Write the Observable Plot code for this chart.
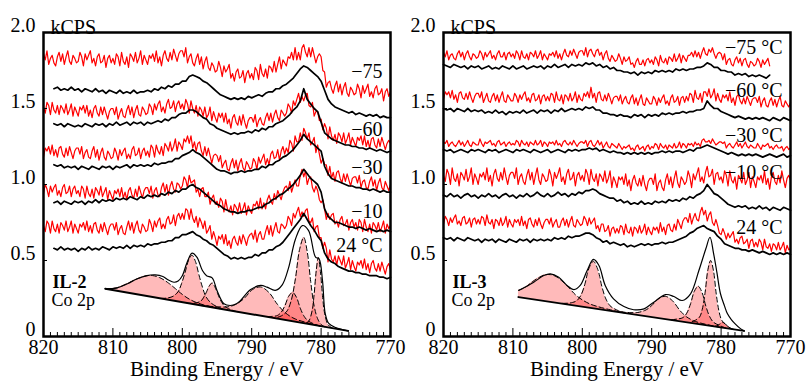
<!DOCTYPE html>
<html><head><meta charset="utf-8">
<script src="https://cdn.jsdelivr.net/npm/d3@7"></script>
<script src="https://cdn.jsdelivr.net/npm/@observablehq/plot@0.6"></script>
<style>
html,body{margin:0;padding:0;background:#fff;}
#wrap{position:relative;width:808px;height:382px;overflow:hidden;background:#fff;}
#wrap svg{position:absolute;top:0;background:transparent !important;overflow:visible !important;}
#wrap svg, #wrap svg text, #wrap svg g{font-family:"Liberation Serif","LiberationSerif","Tinos","Times New Roman","DejaVu Serif","Noto Serif",Times,serif !important;}
</style></head><body><div id="wrap"></div>
<script>
// ---------- axes ----------
const xTicks = [820, 810, 800, 790, 780, 770];
const yTicks = [0, 0.5, 1.0, 1.5, 2.0];
const yTickLabels = ["0", "0.5", "1.0", "1.5", "2.0"];
const minorTicks = d3.range(770, 821, 1).filter(d => d % 10 !== 0);
const yInnerTicks = [0.5, 1.0, 1.5];

// energy grids (eV)
const energyRedFull = d3.range(820, 769.9, -0.25);     // 820 -> 770, 0.25 eV
const energyRedShort = d3.range(820, 772.9, -0.25);    // 820 -> 773, 0.25 eV
const energyFull = d3.range(820, 769.75, -0.5);        // 820 -> 770, 0.5 eV
const energyLateStart = d3.range(818.5, 769.75, -0.5); // 818.5 -> 770
const energyEarlyStop = d3.range(820, 772.75, -0.5);   // 820 -> 773

// ---------- IL-2 spectra (kCPS) ----------
const il2Red75 = [1.86,1.82,1.88,1.79,1.83,1.85,1.80,1.78,1.84,1.87,1.81,1.86,1.79,1.84,1.88,1.81,1.79,1.85,1.83,1.80,
1.81,1.87,1.84,1.78,1.86,1.82,1.85,1.88,1.80,1.83,1.78,1.84,1.86,1.80,1.81,1.85,1.77,1.83,1.85,1.80,
1.83,1.79,1.86,1.84,1.78,1.87,1.81,1.79,1.84,1.77,1.86,1.84,1.81,1.87,1.80,1.83,1.88,1.79,1.85,1.82,
1.79,1.85,1.83,1.86,1.81,1.88,1.80,1.84,1.78,1.85,1.88,1.83,1.81,1.87,1.82,1.89,1.85,1.81,1.86,1.88,
1.88,1.84,1.90,1.80,1.84,1.86,1.80,1.78,1.83,1.86,1.79,1.84,1.76,1.81,1.84,1.77,1.75,1.80,1.78,1.74,
1.75,1.81,1.77,1.71,1.78,1.74,1.76,1.79,1.70,1.73,1.68,1.74,1.76,1.70,1.71,1.75,1.67,1.73,1.75,1.70,
1.73,1.69,1.77,1.75,1.69,1.79,1.73,1.71,1.76,1.70,1.78,1.77,1.74,1.81,1.74,1.79,1.84,1.76,1.82,1.80,
1.78,1.84,1.83,1.87,1.82,1.90,1.82,1.87,1.82,1.90,1.92,1.87,1.84,1.90,1.84,1.90,1.85,1.80,1.84,1.86,
1.84,1.75,1.74,1.64,1.67,1.68,1.63,1.60,1.65,1.68,1.61,1.66,1.59,1.64,1.67,1.60,1.58,1.64,1.62,1.59,
1.60,1.66,1.63,1.57,1.65,1.60,1.63,1.66,1.58,1.61,1.57,1.63,1.65,1.59,1.60,1.63,1.55,1.61,1.63,1.58,1.61];
const il2Blk75 = [1.63,1.64,1.62,1.63,1.62,1.64,1.62,1.63,1.61,1.63,
1.62,1.61,1.63,1.61,1.62,1.60,1.62,1.61,1.60,1.62,
1.60,1.61,1.60,1.62,1.60,1.61,1.61,1.62,1.61,1.63,
1.62,1.64,1.63,1.65,1.64,1.66,1.66,1.68,1.68,1.71,
1.72,1.71,1.70,1.68,1.67,1.65,1.63,1.61,1.59,1.58,
1.57,1.56,1.57,1.56,1.57,1.56,1.58,1.57,1.58,1.59,
1.58,1.60,1.61,1.61,1.63,1.63,1.65,1.66,1.68,1.70,
1.73,1.76,1.78,1.77,1.75,1.73,1.71,1.68,1.62,1.56,
1.53,1.51,1.50,1.49,1.48,1.47,1.48,1.46,1.47,1.46,
1.45,1.46,1.45,1.46,1.44,1.45,1.44,1.44];
const il2Red60 = [1.51,1.47,1.54,1.52,1.46,1.54,1.49,1.47,1.52,1.46,1.52,1.50,1.47,1.53,1.46,1.49,1.53,1.45,1.51,1.48,
1.45,1.51,1.49,1.52,1.47,1.52,1.45,1.49,1.44,1.50,1.52,1.47,1.45,1.51,1.46,1.51,1.47,1.43,1.48,1.50,
1.50,1.46,1.51,1.43,1.47,1.50,1.45,1.44,1.49,1.52,1.46,1.51,1.44,1.49,1.52,1.46,1.45,1.51,1.49,1.46,
1.47,1.53,1.51,1.46,1.53,1.49,1.53,1.55,1.48,1.51,1.47,1.53,1.56,1.50,1.51,1.55,1.48,1.53,1.55,1.50,
1.53,1.49,1.56,1.53,1.47,1.55,1.50,1.47,1.52,1.45,1.51,1.49,1.45,1.51,1.44,1.46,1.51,1.42,1.48,1.44,
1.41,1.47,1.44,1.47,1.41,1.47,1.40,1.43,1.37,1.44,1.46,1.41,1.39,1.45,1.39,1.46,1.41,1.37,1.42,1.44,
1.44,1.41,1.46,1.38,1.42,1.44,1.40,1.39,1.44,1.47,1.42,1.47,1.41,1.46,1.49,1.44,1.42,1.49,1.47,1.45,
1.47,1.53,1.51,1.47,1.55,1.52,1.56,1.60,1.54,1.58,1.55,1.59,1.60,1.52,1.51,1.54,1.45,1.48,1.48,1.42,
1.43,1.36,1.40,1.37,1.30,1.38,1.32,1.29,1.33,1.27,1.34,1.32,1.28,1.34,1.27,1.30,1.34,1.26,1.31,1.28,
1.25,1.31,1.29,1.32,1.26,1.32,1.25,1.29,1.24,1.30,1.31,1.26,1.24,1.30,1.25,1.31,1.27,1.23,1.27,1.29,1.27];
const il2Blk60 = [1.40,1.39,1.40,1.38,1.40,1.39,1.38,1.39,1.38,1.40,
1.39,1.38,1.40,1.39,1.40,1.38,1.40,1.39,1.41,1.39,
1.40,1.41,1.39,1.41,1.40,1.41,1.39,1.41,1.40,1.41,
1.42,1.41,1.43,1.42,1.44,1.44,1.46,1.47,1.47,1.49,
1.49,1.48,1.46,1.44,1.43,1.40,1.39,1.37,1.36,1.35,
1.34,1.33,1.34,1.33,1.34,1.34,1.35,1.34,1.36,1.35,
1.37,1.36,1.38,1.38,1.40,1.41,1.42,1.44,1.46,1.49,
1.51,1.55,1.63,1.56,1.53,1.50,1.48,1.41,1.34,1.32,
1.30,1.29,1.28,1.27,1.26,1.26,1.25,1.25,1.24,1.24,
1.23,1.24,1.23,1.22,1.23,1.22,1.21,1.22];
const il2Red30 = [1.18,1.24,1.22,1.25,1.20,1.26,1.19,1.23,1.18,1.24,1.25,1.20,1.18,1.24,1.19,1.25,1.21,1.17,1.22,1.24,
1.24,1.20,1.25,1.17,1.21,1.23,1.18,1.17,1.22,1.25,1.18,1.23,1.16,1.21,1.24,1.18,1.16,1.22,1.20,1.17,
1.18,1.24,1.21,1.16,1.23,1.19,1.22,1.24,1.17,1.20,1.17,1.23,1.25,1.19,1.20,1.24,1.17,1.22,1.24,1.19,
1.22,1.18,1.26,1.24,1.18,1.26,1.22,1.20,1.25,1.19,1.27,1.25,1.22,1.28,1.22,1.25,1.30,1.22,1.28,1.26,
1.23,1.30,1.28,1.32,1.27,1.32,1.24,1.28,1.22,1.27,1.28,1.22,1.19,1.25,1.19,1.24,1.19,1.14,1.19,1.20,
1.19,1.15,1.19,1.11,1.14,1.16,1.10,1.09,1.14,1.17,1.11,1.16,1.09,1.14,1.17,1.11,1.09,1.15,1.13,1.10,
1.11,1.17,1.15,1.10,1.18,1.14,1.17,1.20,1.13,1.17,1.13,1.20,1.22,1.17,1.18,1.23,1.16,1.22,1.25,1.20,
1.24,1.21,1.29,1.27,1.22,1.32,1.28,1.28,1.34,1.29,1.37,1.34,1.30,1.34,1.26,1.28,1.31,1.21,1.26,1.20,
1.14,1.17,1.13,1.13,1.06,1.12,1.04,1.08,1.02,1.08,1.09,1.04,1.01,1.07,1.02,1.07,1.03,0.99,1.04,1.05,
1.05,1.01,1.06,0.98,1.02,1.03,0.98,0.97,1.02,1.05,0.99,1.03,0.96,1.01,1.04,0.98,0.96,1.02,0.99,0.96,1.00];
const il2Blk30 = [1.13,1.12,1.13,1.11,1.12,1.11,1.12,1.10,1.12,1.11,
1.10,1.12,1.11,1.10,1.12,1.11,1.12,1.10,1.12,1.11,
1.12,1.13,1.11,1.13,1.12,1.13,1.12,1.13,1.12,1.14,
1.13,1.14,1.14,1.15,1.15,1.17,1.17,1.19,1.20,1.21,
1.23,1.21,1.20,1.18,1.16,1.14,1.12,1.10,1.09,1.09,
1.08,1.07,1.08,1.08,1.09,1.08,1.09,1.09,1.10,1.10,
1.12,1.11,1.13,1.13,1.15,1.16,1.18,1.19,1.21,1.23,
1.26,1.29,1.33,1.30,1.28,1.26,1.24,1.22,1.12,1.07,
1.04,1.03,1.02,1.01,1.00,0.99,0.99,0.98,0.98,0.97,
0.97,0.96,0.97,0.96,0.95,0.96,0.95,0.95];
const il2Red10 = [0.94,1.00,0.97,0.92,0.99,0.95,0.98,1.00,0.93,0.96,0.92,0.98,1.00,0.94,0.95,0.99,0.92,0.97,0.99,0.94,
0.96,0.92,0.99,0.97,0.91,0.99,0.94,0.92,0.97,0.91,0.98,0.96,0.93,0.99,0.92,0.95,0.98,0.90,0.96,0.93,
0.90,0.96,0.94,0.97,0.92,0.98,0.91,0.95,0.90,0.96,0.98,0.93,0.91,0.97,0.92,0.99,0.95,0.91,0.96,0.98,
0.98,0.94,0.99,0.91,0.96,0.98,0.93,0.92,0.98,1.01,0.95,1.00,0.93,0.99,1.02,0.97,0.95,1.01,1.00,0.97,
0.99,1.05,1.03,0.98,1.06,1.01,1.02,1.03,0.95,0.97,0.92,0.97,0.98,0.92,0.92,0.95,0.87,0.91,0.93,0.87,
0.89,0.85,0.91,0.89,0.82,0.90,0.84,0.82,0.86,0.80,0.87,0.85,0.82,0.88,0.81,0.84,0.88,0.80,0.86,0.83,
0.81,0.87,0.86,0.89,0.84,0.91,0.84,0.88,0.84,0.90,0.93,0.89,0.87,0.94,0.90,0.96,0.93,0.90,0.95,0.98,
0.99,0.96,1.02,0.95,0.99,1.03,0.99,0.99,1.06,1.10,1.05,1.09,1.00,1.04,1.05,0.98,0.95,0.99,0.96,0.90,
0.88,0.90,0.84,0.77,0.81,0.77,0.80,0.81,0.74,0.76,0.72,0.77,0.79,0.73,0.74,0.77,0.70,0.75,0.77,0.72,
0.75,0.70,0.77,0.75,0.69,0.77,0.72,0.69,0.74,0.68,0.75,0.73,0.70,0.75,0.69,0.72,0.76,0.68,0.74,0.71,0.73];
const il2Blk10 = [0.88,0.89,0.87,0.89,0.88,0.87,0.89,0.88,0.89,0.87,
0.89,0.88,0.90,0.88,0.90,0.89,0.90,0.89,0.91,0.90,
0.91,0.90,0.92,0.91,0.90,0.92,0.91,0.93,0.92,0.93,
0.92,0.94,0.93,0.95,0.94,0.96,0.95,0.97,0.97,0.99,
1.00,0.98,0.97,0.95,0.93,0.91,0.89,0.87,0.86,0.84,
0.83,0.82,0.82,0.81,0.82,0.82,0.83,0.83,0.84,0.85,
0.85,0.87,0.88,0.90,0.91,0.93,0.94,0.96,0.98,1.00,
1.03,1.06,1.10,1.07,1.04,1.02,1.00,0.95,0.84,0.79,
0.77,0.75,0.75,0.74,0.73,0.72,0.72,0.71,0.72,0.71,
0.70,0.71,0.70,0.69,0.70,0.69,0.70,0.69];
const il2Red24 = [0.73,0.69,0.76,0.74,0.68,0.76,0.71,0.69,0.74,0.68,0.75,0.73,0.70,0.76,0.69,0.72,0.76,0.68,0.74,0.71,
0.68,0.74,0.72,0.75,0.70,0.76,0.69,0.73,0.68,0.74,0.75,0.70,0.68,0.74,0.69,0.75,0.71,0.67,0.72,0.74,
0.74,0.70,0.75,0.67,0.71,0.73,0.68,0.67,0.72,0.76,0.70,0.75,0.68,0.73,0.76,0.70,0.68,0.74,0.72,0.69,
0.70,0.77,0.74,0.69,0.76,0.72,0.76,0.78,0.71,0.74,0.71,0.77,0.79,0.74,0.75,0.80,0.73,0.79,0.81,0.77,
0.81,0.77,0.84,0.83,0.77,0.84,0.78,0.75,0.79,0.72,0.78,0.75,0.71,0.76,0.68,0.70,0.73,0.64,0.69,0.65,
0.60,0.66,0.64,0.67,0.61,0.67,0.60,0.63,0.58,0.64,0.66,0.62,0.60,0.66,0.61,0.67,0.64,0.60,0.65,0.67,
0.68,0.64,0.70,0.62,0.67,0.69,0.64,0.64,0.69,0.73,0.67,0.73,0.66,0.71,0.75,0.69,0.68,0.74,0.73,0.71,
0.73,0.79,0.77,0.73,0.81,0.78,0.82,0.85,0.79,0.82,0.79,0.83,0.84,0.76,0.75,0.78,0.69,0.72,0.73,0.65,
0.65,0.58,0.62,0.58,0.49,0.57,0.51,0.49,0.53,0.47,0.53,0.50,0.47,0.53,0.45,0.48,0.52,0.44,0.50,0.46,
0.43,0.49,0.47,0.50,0.45,0.51,0.44,0.48,0.42,0.48,0.50,0.45,0.43,0.48,0.43,0.49,0.45,0.41,0.46,0.48,0.44];
const il2Blk24 = [0.58,0.57,0.59,0.57,0.58,0.57,0.58,0.56,0.58,0.57,
0.59,0.57,0.58,0.57,0.59,0.58,0.57,0.59,0.58,0.59,
0.58,0.60,0.58,0.60,0.59,0.60,0.59,0.61,0.60,0.61,
0.61,0.62,0.62,0.63,0.63,0.65,0.65,0.67,0.67,0.68,
0.69,0.67,0.66,0.64,0.63,0.61,0.60,0.58,0.56,0.54,
0.53,0.51,0.52,0.51,0.52,0.51,0.52,0.52,0.54,0.53,
0.55,0.55,0.57,0.57,0.59,0.60,0.62,0.65,0.68,0.71,
0.74,0.77,0.81,0.77,0.73,0.70,0.66,0.63,0.55,0.51,
0.49,0.48,0.46,0.45,0.44,0.43,0.43,0.42,0.42,0.41,
0.41,0.40,0.40,0.40,0.39,0.39,0.38,0.39];

// ---------- IL-3 spectra (kCPS) ----------
const il3Red75 = [1.87,1.84,1.88,1.82,1.85,1.86,1.83,1.82,1.86,1.88,1.84,1.87,1.82,1.86,1.88,1.84,1.82,1.86,1.85,1.83,
1.84,1.88,1.86,1.82,1.87,1.84,1.86,1.88,1.83,1.85,1.82,1.86,1.88,1.84,1.84,1.87,1.82,1.86,1.87,1.84,
1.86,1.83,1.88,1.86,1.82,1.88,1.84,1.83,1.86,1.82,1.87,1.86,1.84,1.88,1.83,1.85,1.88,1.82,1.86,1.84,
1.82,1.86,1.85,1.87,1.84,1.88,1.83,1.86,1.82,1.86,1.89,1.85,1.84,1.88,1.85,1.89,1.86,1.83,1.87,1.88,
1.88,1.85,1.90,1.84,1.88,1.89,1.86,1.84,1.88,1.89,1.85,1.87,1.82,1.86,1.88,1.83,1.81,1.85,1.83,1.81,
1.82,1.86,1.83,1.79,1.84,1.81,1.82,1.84,1.79,1.80,1.77,1.81,1.83,1.79,1.79,1.82,1.78,1.82,1.83,1.80,
1.82,1.79,1.84,1.82,1.78,1.85,1.81,1.80,1.83,1.79,1.84,1.83,1.81,1.86,1.81,1.83,1.86,1.80,1.85,1.83,
1.81,1.85,1.85,1.87,1.84,1.88,1.84,1.87,1.83,1.87,1.90,1.86,1.85,1.89,1.87,1.90,1.86,1.83,1.86,1.87,
1.86,1.82,1.86,1.79,1.82,1.83,1.79,1.78,1.82,1.84,1.80,1.83,1.78,1.82,1.83,1.79,1.77,1.81,1.80,1.78,
1.79,1.83,1.81,1.77,1.82,1.79,1.81,1.83,1.78];
const il3Blk75 = [1.79,1.78,1.77,1.79,1.78,1.77,1.78,1.76,1.78,1.77,
1.78,1.76,1.77,1.78,1.76,1.77,1.76,1.78,1.77,1.76,
1.78,1.76,1.77,1.78,1.76,1.77,1.78,1.77,1.78,1.76,
1.78,1.77,1.79,1.77,1.78,1.79,1.77,1.79,1.78,1.79,
1.78,1.80,1.79,1.80,1.78,1.79,1.77,1.78,1.76,1.77,
1.75,1.75,1.74,1.74,1.73,1.74,1.72,1.74,1.73,1.74,
1.73,1.75,1.74,1.75,1.74,1.75,1.74,1.76,1.75,1.76,
1.75,1.76,1.76,1.77,1.77,1.78,1.80,1.79,1.77,1.77,
1.75,1.75,1.74,1.74,1.72,1.73,1.72,1.73,1.71,1.72,
1.71,1.72,1.71,1.70,1.72];
const il3Red60 = [1.56,1.61,1.59,1.61,1.57,1.62,1.56,1.59,1.54,1.60,1.61,1.57,1.56,1.60,1.56,1.61,1.57,1.54,1.58,1.60,
1.60,1.57,1.61,1.54,1.57,1.60,1.55,1.54,1.58,1.60,1.55,1.59,1.54,1.58,1.61,1.55,1.54,1.59,1.57,1.55,
1.55,1.60,1.58,1.54,1.59,1.56,1.59,1.61,1.55,1.57,1.54,1.59,1.60,1.55,1.56,1.59,1.53,1.58,1.59,1.55,
1.58,1.55,1.60,1.59,1.54,1.61,1.56,1.55,1.59,1.53,1.59,1.58,1.55,1.60,1.55,1.57,1.61,1.54,1.59,1.56,
1.55,1.60,1.58,1.61,1.57,1.64,1.57,1.60,1.54,1.60,1.61,1.56,1.55,1.59,1.55,1.60,1.57,1.53,1.57,1.58,
1.58,1.55,1.59,1.53,1.56,1.58,1.54,1.53,1.57,1.59,1.53,1.57,1.52,1.56,1.59,1.53,1.52,1.57,1.55,1.53,
1.53,1.58,1.56,1.52,1.57,1.54,1.57,1.59,1.53,1.55,1.52,1.57,1.59,1.54,1.55,1.58,1.52,1.57,1.58,1.54,
1.58,1.55,1.60,1.59,1.54,1.62,1.57,1.56,1.60,1.54,1.61,1.61,1.58,1.63,1.57,1.59,1.63,1.55,1.60,1.56,
1.54,1.59,1.57,1.59,1.55,1.61,1.54,1.57,1.52,1.58,1.59,1.55,1.53,1.57,1.53,1.58,1.55,1.52,1.56,1.57,
1.57,1.54,1.58,1.51,1.55,1.57,1.52,1.51,1.55,1.57,1.52,1.56,1.51,1.55,1.58,1.52,1.51,1.55,1.53,1.51,1.54];
const il3Blk60 = [1.50,1.49,1.50,1.48,1.50,1.49,1.48,1.50,1.48,1.49,
1.48,1.49,1.47,1.48,1.47,1.49,1.47,1.48,1.46,1.48,
1.47,1.48,1.47,1.49,1.47,1.48,1.49,1.47,1.49,1.48,
1.49,1.47,1.49,1.48,1.50,1.48,1.49,1.50,1.49,1.50,
1.49,1.51,1.50,1.51,1.49,1.49,1.47,1.47,1.46,1.46,
1.45,1.46,1.45,1.45,1.44,1.46,1.45,1.46,1.44,1.46,
1.45,1.46,1.45,1.47,1.46,1.47,1.46,1.47,1.47,1.48,
1.47,1.48,1.48,1.49,1.49,1.50,1.55,1.52,1.50,1.50,
1.48,1.47,1.46,1.45,1.44,1.45,1.44,1.43,1.44,1.43,
1.44,1.43,1.44,1.43,1.42,1.44,1.43,1.42,1.44,1.43,1.42];
const il3Red30 = [1.28,1.27,1.29,1.25,1.27,1.28,1.26,1.25,1.27,1.29,1.26,1.28,1.25,1.27,1.29,1.26,1.25,1.28,1.27,1.26,
1.26,1.30,1.27,1.25,1.28,1.27,1.28,1.29,1.26,1.27,1.25,1.28,1.29,1.26,1.27,1.28,1.25,1.27,1.28,1.26,
1.27,1.26,1.29,1.28,1.25,1.29,1.27,1.26,1.28,1.25,1.28,1.27,1.26,1.29,1.26,1.27,1.29,1.25,1.28,1.27,
1.25,1.28,1.27,1.28,1.26,1.29,1.26,1.27,1.25,1.28,1.29,1.27,1.26,1.28,1.26,1.29,1.27,1.25,1.27,1.28,
1.28,1.27,1.29,1.25,1.28,1.29,1.26,1.25,1.27,1.29,1.26,1.28,1.24,1.26,1.28,1.25,1.24,1.27,1.26,1.25,
1.24,1.27,1.25,1.23,1.25,1.24,1.25,1.26,1.23,1.24,1.22,1.25,1.26,1.23,1.24,1.25,1.22,1.25,1.26,1.23,
1.25,1.24,1.27,1.26,1.23,1.27,1.25,1.24,1.26,1.23,1.26,1.25,1.24,1.27,1.24,1.25,1.28,1.24,1.27,1.26,
1.24,1.27,1.26,1.27,1.25,1.28,1.26,1.27,1.25,1.29,1.30,1.28,1.28,1.29,1.27,1.30,1.28,1.26,1.27,1.28,
1.28,1.27,1.28,1.24,1.26,1.27,1.25,1.24,1.26,1.28,1.25,1.27,1.24,1.26,1.28,1.25,1.24,1.26,1.25,1.24,
1.24,1.27,1.25,1.23,1.26,1.25,1.26,1.27,1.24,1.25,1.23,1.25,1.26,1.24,1.24,1.25,1.22,1.24,1.25,1.23,1.24];
const il3Blk30 = [1.23,1.22,1.23,1.21,1.22,1.23,1.22,1.21,1.23,1.22,
1.23,1.22,1.21,1.23,1.22,1.23,1.21,1.22,1.23,1.22,
1.21,1.23,1.22,1.23,1.22,1.21,1.23,1.22,1.21,1.22,
1.23,1.21,1.22,1.23,1.22,1.21,1.23,1.22,1.23,1.22,
1.23,1.23,1.24,1.23,1.24,1.22,1.23,1.22,1.21,1.22,
1.21,1.21,1.20,1.21,1.20,1.21,1.20,1.21,1.20,1.21,
1.20,1.21,1.21,1.22,1.21,1.22,1.21,1.22,1.22,1.21,
1.22,1.23,1.22,1.24,1.24,1.25,1.26,1.25,1.24,1.23,
1.22,1.21,1.20,1.21,1.20,1.19,1.20,1.19,1.20,1.19,
1.20,1.19,1.18,1.19,1.20,1.19,1.18,1.19,1.20,1.18,1.19];
const il3Red10 = [1.06,1.02,1.10,1.07,1.00,1.11,1.04,1.02,1.07,0.99,1.08,1.06,1.03,1.10,1.02,1.05,1.11,1.00,1.07,1.04,
1.00,1.07,1.05,1.08,1.03,1.11,1.02,1.06,0.99,1.07,1.10,1.04,1.02,1.08,1.03,1.11,1.05,1.00,1.06,1.08,
1.08,1.04,1.11,1.00,1.05,1.07,1.02,1.00,1.06,1.10,1.03,1.08,1.00,1.06,1.11,1.03,1.00,1.07,1.05,1.02,
1.03,1.10,1.06,0.99,1.08,1.04,1.07,1.11,1.02,1.05,1.00,1.07,1.10,1.03,1.04,1.08,0.99,1.06,1.08,1.03,
1.06,1.02,1.10,1.07,1.00,1.10,1.04,1.02,1.07,0.99,1.07,1.05,1.02,1.09,1.01,1.04,1.09,0.98,1.05,1.02,
0.98,1.05,1.03,1.05,1.00,1.07,0.99,1.03,0.96,1.03,1.06,1.01,0.99,1.04,0.99,1.06,1.00,0.96,1.02,1.04,
1.04,1.00,1.07,0.96,1.01,1.03,0.98,0.96,1.03,1.07,1.00,1.05,0.98,1.04,1.09,1.01,0.98,1.05,1.03,1.00,
1.02,1.09,1.05,0.98,1.07,1.03,1.07,1.11,1.02,1.05,1.01,1.08,1.12,1.05,1.06,1.10,1.00,1.07,1.08,1.03,
1.05,1.01,1.09,1.06,0.99,1.09,1.03,1.01,1.05,0.97,1.06,1.04,1.01,1.08,1.00,1.03,1.08,0.98,1.05,1.02,
0.98,1.05,1.03,1.06,1.01,1.09,1.00,1.04,0.97,1.05,1.08,1.02,1.00,1.06,1.01,1.09,1.03,0.98,1.04,1.06,1.03];
const il3Blk10 = [0.93,0.92,0.94,0.92,0.93,0.91,0.93,0.94,0.92,0.93,
0.91,0.93,0.92,0.94,0.92,0.93,0.91,0.93,0.94,0.92,
0.93,0.91,0.93,0.92,0.94,0.92,0.93,0.95,0.93,0.92,
0.94,0.92,0.93,0.95,0.93,0.94,0.92,0.94,0.93,0.95,
0.94,0.96,0.96,0.97,0.96,0.94,0.93,0.92,0.91,0.91,
0.89,0.90,0.88,0.89,0.87,0.88,0.87,0.89,0.87,0.88,
0.87,0.89,0.88,0.89,0.88,0.90,0.89,0.90,0.89,0.91,
0.90,0.92,0.91,0.93,0.94,0.96,1.00,0.97,0.94,0.93,
0.91,0.89,0.87,0.86,0.85,0.86,0.85,0.86,0.84,0.85,
0.84,0.86,0.84,0.85,0.83,0.85,0.84,0.83,0.85,0.84,0.83];
const il3Red24 = [0.74,0.79,0.77,0.73,0.78,0.75,0.78,0.80,0.74,0.76,0.73,0.78,0.79,0.74,0.75,0.78,0.72,0.77,0.78,0.74,
0.77,0.74,0.79,0.78,0.73,0.80,0.75,0.74,0.77,0.71,0.77,0.76,0.73,0.78,0.73,0.75,0.79,0.72,0.77,0.74,
0.72,0.77,0.75,0.77,0.73,0.79,0.73,0.76,0.71,0.77,0.78,0.74,0.72,0.77,0.73,0.78,0.74,0.71,0.75,0.77,
0.77,0.74,0.78,0.72,0.75,0.77,0.72,0.72,0.76,0.78,0.73,0.77,0.72,0.76,0.79,0.73,0.72,0.77,0.75,0.73,
0.74,0.79,0.77,0.73,0.78,0.74,0.76,0.78,0.71,0.73,0.69,0.74,0.74,0.69,0.70,0.73,0.66,0.71,0.72,0.68,
0.71,0.68,0.73,0.72,0.67,0.74,0.69,0.68,0.72,0.66,0.72,0.71,0.68,0.73,0.68,0.70,0.74,0.67,0.72,0.69,
0.67,0.72,0.70,0.72,0.68,0.75,0.69,0.72,0.67,0.73,0.74,0.70,0.69,0.74,0.70,0.77,0.74,0.71,0.76,0.78,
0.78,0.75,0.81,0.74,0.78,0.81,0.77,0.76,0.82,0.85,0.80,0.83,0.76,0.80,0.82,0.75,0.73,0.77,0.73,0.68,
0.67,0.71,0.68,0.64,0.68,0.65,0.67,0.69,0.62,0.64,0.61,0.65,0.66,0.61,0.62,0.64,0.58,0.63,0.64,0.59,
0.62,0.59,0.64,0.62,0.57,0.64,0.59,0.58,0.61,0.56,0.61,0.60,0.57,0.62,0.57,0.59,0.62,0.55,0.60,0.57,0.58];
const il3Blk24 = [0.65,0.64,0.65,0.63,0.65,0.64,0.63,0.65,0.64,0.63,
0.64,0.62,0.64,0.63,0.64,0.62,0.64,0.63,0.62,0.64,
0.63,0.62,0.64,0.63,0.64,0.62,0.64,0.63,0.64,0.63,
0.64,0.63,0.65,0.64,0.65,0.64,0.66,0.65,0.66,0.66,
0.67,0.68,0.68,0.67,0.65,0.64,0.62,0.63,0.61,0.62,
0.61,0.60,0.61,0.59,0.60,0.59,0.60,0.61,0.60,0.61,
0.60,0.61,0.61,0.62,0.61,0.62,0.62,0.63,0.64,0.65,
0.66,0.68,0.69,0.71,0.72,0.73,0.71,0.70,0.69,0.66,
0.64,0.61,0.60,0.59,0.58,0.58,0.57,0.57,0.56,0.57,
0.56,0.55,0.56,0.55,0.54,0.55,0.54,0.55,0.54,0.55,0.54];

// ---------- IL-2 peak fit (energy, baseline, component top) ----------
const il2BaseE = [811.1, 776.1];
const il2BaseV = [0.314, 0.037];
const il2EnvE = [811.1,809.4,807.9,806.5,805.1,803.9,802.8,802.0,801.2,800.6,800.0,799.3,798.6,797.9,797.1,796.5,795.7,795.0,794.0,793.1,792.2,791.6,790.2,788.7,787.8,786.6,785.6,784.7,783.7,782.7,781.8,780.8,780.3,779.8,779.4,778.9,777.9,776.1];
const il2EnvV = [0.314,0.320,0.347,0.380,0.401,0.406,0.395,0.372,0.357,0.365,0.400,0.489,0.548,0.522,0.434,0.400,0.386,0.303,0.215,0.204,0.215,0.237,0.307,0.336,0.325,0.303,0.340,0.450,0.640,0.730,0.697,0.522,0.511,0.368,0.149,0.086,0.059,0.037];
const il2C1E = [811,810.2,809.4,808,806.5,805.2,804.3,803.2,802,801,800,799,798,797,795.5,794.5];
const il2C1Lo = [0.313,0.306,0.300,0.289,0.277,0.267,0.260,0.251,0.241,0.234,0.226,0.218,0.210,0.202,0.190,0.182];
const il2C1Hi = [0.313,0.315,0.320,0.347,0.379,0.399,0.401,0.386,0.352,0.315,0.277,0.246,0.224,0.209,0.192,0.182];
const il2C2E = [794.1,795.0,795.9,796.6,797.1,797.6,798.1,798.6,799.1,799.6,800.1,800.6,801.3,802.2,803.1];
const il2C2Lo = [0.179,0.186,0.193,0.199,0.203,0.207,0.211,0.215,0.219,0.223,0.227,0.231,0.236,0.243,0.250];
const il2C2Hi = [0.179,0.196,0.222,0.263,0.325,0.405,0.493,0.535,0.501,0.421,0.349,0.295,0.265,0.253,0.250];
const il2C3E = [792.1,792.7,793.5,794.1,794.5,794.9,795.3,795.7,796.1,796.5,796.9,797.3,797.9,798.7,799.3];
const il2C3Lo = [0.163,0.168,0.174,0.179,0.182,0.185,0.188,0.192,0.195,0.198,0.201,0.204,0.209,0.215,0.220];
const il2C3Hi = [0.163,0.171,0.187,0.209,0.240,0.281,0.326,0.352,0.333,0.294,0.259,0.234,0.222,0.218,0.220];
const il2C4E = [780.2,782.2,783.9,785.1,786.3,787.5,788.7,789.9,791.1,792.3,793.5,795.2,797.2];
const il2C4Lo = [0.069,0.085,0.098,0.108,0.117,0.127,0.136,0.146,0.155,0.165,0.174,0.188,0.203];
const il2C4Hi = [0.069,0.093,0.119,0.154,0.212,0.289,0.326,0.308,0.250,0.211,0.195,0.196,0.203];
const il2C5E = [780.1,781.1,781.9,782.45,783.0,783.55,784.1,784.65,785.2,785.75,786.3,787.1,788.1];
const il2C5Lo = [0.068,0.076,0.083,0.087,0.091,0.096,0.100,0.104,0.109,0.113,0.117,0.124,0.132];
const il2C5Hi = [0.068,0.084,0.104,0.133,0.186,0.258,0.290,0.266,0.204,0.159,0.138,0.132,0.132];
const il2C6E = [779.5,780.0,780.5,781.0,781.5,782.0,782.5,783.1,783.7,784.3,784.9,785.7,786.7];
const il2C6Lo = [0.064,0.068,0.072,0.076,0.079,0.083,0.087,0.092,0.097,0.102,0.106,0.113,0.121];
const il2C6Hi = [0.064,0.079,0.117,0.200,0.362,0.558,0.652,0.572,0.380,0.238,0.168,0.136,0.121];
const il2C7E = [778.4,779.0,779.5,779.8,780.1,780.4,780.7,781.0,781.3,781.8,782.4];
const il2C7Lo = [0.055,0.060,0.064,0.066,0.068,0.071,0.073,0.076,0.078,0.082,0.086];
const il2C7Hi = [0.055,0.078,0.154,0.269,0.428,0.521,0.433,0.279,0.168,0.100,0.086];

// ---------- IL-3 peak fit ----------
const il3BaseE = [809.2, 776.7];
const il3BaseV = [0.259, 0.037];
const il3EnvE = [809.15,807.0,805.55,804.6,803.4,802.2,801.2,800.3,799.3,798.4,797.6,796.7,795.5,794.0,792.6,791.1,789.7,788.0,786.8,785.6,784.4,783.2,782.2,781.6,781.1,780.6,780.1,779.5,779.1,778.5,777.9,777.3,776.7];
const il3EnvV = [0.303,0.357,0.401,0.412,0.390,0.336,0.309,0.336,0.434,0.507,0.467,0.336,0.248,0.197,0.176,0.182,0.226,0.276,0.263,0.237,0.281,0.434,0.577,0.653,0.550,0.420,0.283,0.200,0.151,0.110,0.080,0.055,0.037];
const il3D1E = [809.2,808.2,807.2,806.2,805.4,804.6,803.8,803.0,802.0,801.0,800.0,799.0,797.8,796.0,794.0];
const il3D1Lo = [0.259,0.252,0.245,0.238,0.233,0.227,0.222,0.217,0.210,0.203,0.196,0.189,0.181,0.169,0.155];
const il3D1Hi = [0.304,0.324,0.360,0.389,0.406,0.407,0.395,0.368,0.325,0.275,0.241,0.216,0.197,0.176,0.155];
const il3D2E = [793.6,794.8,795.4,796.0,796.6,797.2,797.5,797.8,798.4,799.0,799.3,799.6,800.2,800.8,801.4,802.0,803.2];
const il3D2Lo = [0.152,0.161,0.165,0.169,0.173,0.177,0.179,0.181,0.185,0.189,0.191,0.193,0.197,0.202,0.206,0.210,0.218];
const il3D2Hi = [0.152,0.170,0.183,0.202,0.247,0.332,0.396,0.445,0.495,0.453,0.408,0.348,0.271,0.235,0.224,0.219,0.218];
const il3D3E = [780.0,782.0,783.0,784.0,785.0,785.5,786.0,787.0,788.0,789.0,790.0,790.5,791.0,792.0,793.0,794.0,796.0];
const il3D3Lo = [0.059,0.073,0.080,0.087,0.094,0.097,0.100,0.107,0.114,0.121,0.128,0.131,0.135,0.141,0.148,0.155,0.169];
const il3D3Hi = [0.059,0.078,0.089,0.104,0.130,0.150,0.175,0.235,0.264,0.249,0.203,0.184,0.171,0.158,0.157,0.160,0.169];
const il3D4E = [779.3,780.3,781.1,781.65,782.2,782.75,783.3,783.85,784.4,784.95,785.5,786.3,787.3];
const il3D4Lo = [0.055,0.062,0.067,0.071,0.075,0.078,0.082,0.086,0.090,0.093,0.097,0.103,0.109];
const il3D4Hi = [0.055,0.074,0.094,0.131,0.200,0.290,0.331,0.298,0.215,0.153,0.124,0.115,0.109];
const il3D5E = [778.5,779.3,779.9,780.3,780.7,781.1,781.5,781.9,782.3,782.7,783.1,783.7,784.5];
const il3D5Lo = [0.049,0.055,0.059,0.062,0.064,0.067,0.070,0.073,0.075,0.078,0.081,0.085,0.091];
const il3D5Hi = [0.049,0.077,0.106,0.165,0.279,0.433,0.500,0.439,0.290,0.181,0.128,0.107,0.091];
const il3D6E = [778.2,778.8,779.2,779.7,780.2,780.6,781.2];
const il3D6Lo = [0.047,0.051,0.053,0.057,0.060,0.063,0.067];
const il3D6Hi = [0.047,0.059,0.074,0.092,0.081,0.071,0.067];

// ---------- labels ----------
const il2TempLabels = ["\u221275", "\u221260", "\u221230", "\u221210", "24\u00a0\u00b0C"];
const il2TempY = [1.74, 1.362, 1.109, 0.824, 0.599];
const il3TempLabels = ["\u221275\u00a0\u00b0C", "\u221260\u00a0\u00b0C", "\u221230\u00a0\u00b0C", "\u221210\u00a0\u00b0C", "24\u00a0\u00b0C"];
const il3TempY = [1.903, 1.618, 1.322, 1.081, 0.719];

// ---------- build ----------
const RED = "#ff0000", BLACK = "#000000";
const FONT = "Liberation Serif, Tinos, Times New Roman, DejaVu Serif, Noto Serif, serif";

function rowsOf(energies, values) { return values.map((v, i) => ({e: energies[i], v})); }
function compRows(e, lo, hi) { return e.map((x, i) => ({e: x, lo: lo[i], hi: hi[i]})); }

function makePanel(p) {
  const marks = [];
  for (const t of p.traces) {
    marks.push(Plot.line(rowsOf(t.e, t.v), {x: "e", y: "v", stroke: t.red ? RED : BLACK, strokeWidth: t.red ? 1.2 : 1.7}));
  }
  const comps = p.comps.map(c => compRows(c[0], c[1], c[2]));
  for (const rows of comps) {
    marks.push(Plot.areaY(rows, {x: "e", y1: "lo", y2: "hi", fill: RED, fillOpacity: 0.27, curve: "catmull-rom"}));
  }
  for (const rows of comps) {
    marks.push(Plot.line(rows, {x: "e", y: "hi", stroke: BLACK, strokeWidth: 1, strokeDasharray: "5,3", curve: "catmull-rom"}));
  }
  marks.push(Plot.line(rowsOf(p.envE, p.envV), {x: "e", y: "v", stroke: BLACK, strokeWidth: 1.2, curve: "catmull-rom"}));
  marks.push(Plot.line(rowsOf(p.baseE, p.baseV), {x: "e", y: "v", stroke: BLACK, strokeWidth: 2}));
  // ticks
  marks.push(Plot.tickX(minorTicks, {x: d => d, insetTop: 300, stroke: BLACK, strokeWidth: 1}));
  marks.push(Plot.tickX(xTicks, {x: d => d, insetTop: 296, stroke: BLACK, strokeWidth: 1}));
  marks.push(Plot.tickY(yInnerTicks, {y: d => d, insetRight: 343, stroke: BLACK, strokeWidth: 1}));
  // tick labels
  marks.push(Plot.text(yTicks, {y: d => d, text: (d, i) => yTickLabels[i], frameAnchor: "left", textAnchor: "end", dx: -8, dy: -7, fontSize: 20, fontFamily: FONT}));
  marks.push(Plot.text(xTicks, {x: d => d, text: d => String(d), frameAnchor: "bottom", lineAnchor: "top", dy: 3, fontSize: 20, fontFamily: FONT}));
  marks.push(Plot.text(["Binding Energy / eV"], {text: d => d, frameAnchor: "bottom", lineAnchor: "top", dy: 25, fontSize: 21, fontFamily: FONT}));
  marks.push(Plot.text(["kCPS"], {text: d => d, frameAnchor: "top-left", textAnchor: "start", dx: 7, dy: -13, fontSize: 20, fontFamily: FONT}));
  // temperature labels
  marks.push(Plot.text(p.tempLabels.map((t, i) => ({t, y: p.tempY[i]})), {y: "y", text: "t", frameAnchor: "right", textAnchor: "end", dx: -8, fontSize: 20, fontFamily: FONT}));
  // sample labels
  marks.push(Plot.text([p.name], {text: d => d, frameAnchor: "bottom-left", textAnchor: "start", dx: 9, dy: -49, fontSize: 18, fontWeight: "bold", fontFamily: FONT}));
  marks.push(Plot.text(["Co 2p"], {text: d => d, frameAnchor: "bottom-left", textAnchor: "start", dx: 8, dy: -31, fontSize: 18, fontFamily: FONT}));
  marks.push(Plot.frame({stroke: BLACK, strokeWidth: 2.5}));
  return Plot.plot({
    width: 408, height: 382,
    marginTop: 32, marginBottom: 46, marginLeft: 43, marginRight: 18,
    x: {domain: [820, 770], axis: null},
    y: {domain: [0, 2], axis: null},
    style: "font-size: 20px; background: transparent; overflow: visible; color: #000;",
    marks
  });
}

const left = makePanel({
  name: "IL-2",
  traces: [
    {e: energyRedFull, v: il2Red75, red: true}, {e: energyLateStart, v: il2Blk75},
    {e: energyRedFull, v: il2Red60, red: true}, {e: energyLateStart, v: il2Blk60},
    {e: energyRedFull, v: il2Red30, red: true}, {e: energyLateStart, v: il2Blk30},
    {e: energyRedFull, v: il2Red10, red: true}, {e: energyLateStart, v: il2Blk10},
    {e: energyRedFull, v: il2Red24, red: true}, {e: energyLateStart, v: il2Blk24}
  ],
  comps: [
    [il2C1E, il2C1Lo, il2C1Hi], [il2C2E, il2C2Lo, il2C2Hi], [il2C3E, il2C3Lo, il2C3Hi],
    [il2C4E, il2C4Lo, il2C4Hi], [il2C5E, il2C5Lo, il2C5Hi], [il2C6E, il2C6Lo, il2C6Hi],
    [il2C7E, il2C7Lo, il2C7Hi]
  ],
  envE: il2EnvE, envV: il2EnvV, baseE: il2BaseE, baseV: il2BaseV,
  tempLabels: il2TempLabels, tempY: il2TempY
});
const right = makePanel({
  name: "IL-3",
  traces: [
    {e: energyRedShort, v: il3Red75, red: true}, {e: energyEarlyStop, v: il3Blk75},
    {e: energyRedFull, v: il3Red60, red: true}, {e: energyFull, v: il3Blk60},
    {e: energyRedFull, v: il3Red30, red: true}, {e: energyFull, v: il3Blk30},
    {e: energyRedFull, v: il3Red10, red: true}, {e: energyFull, v: il3Blk10},
    {e: energyRedFull, v: il3Red24, red: true}, {e: energyFull, v: il3Blk24}
  ],
  comps: [
    [il3D1E, il3D1Lo, il3D1Hi], [il3D2E, il3D2Lo, il3D2Hi], [il3D3E, il3D3Lo, il3D3Hi],
    [il3D4E, il3D4Lo, il3D4Hi], [il3D5E, il3D5Lo, il3D5Hi], [il3D6E, il3D6Lo, il3D6Hi]
  ],
  envE: il3EnvE, envV: il3EnvV, baseE: il3BaseE, baseV: il3BaseV,
  tempLabels: il3TempLabels, tempY: il3TempY
});
left.style.left = "0px";
right.style.left = "400px";
const wrap = document.getElementById("wrap");
wrap.appendChild(left);
wrap.appendChild(right);
</script>
</body></html>
